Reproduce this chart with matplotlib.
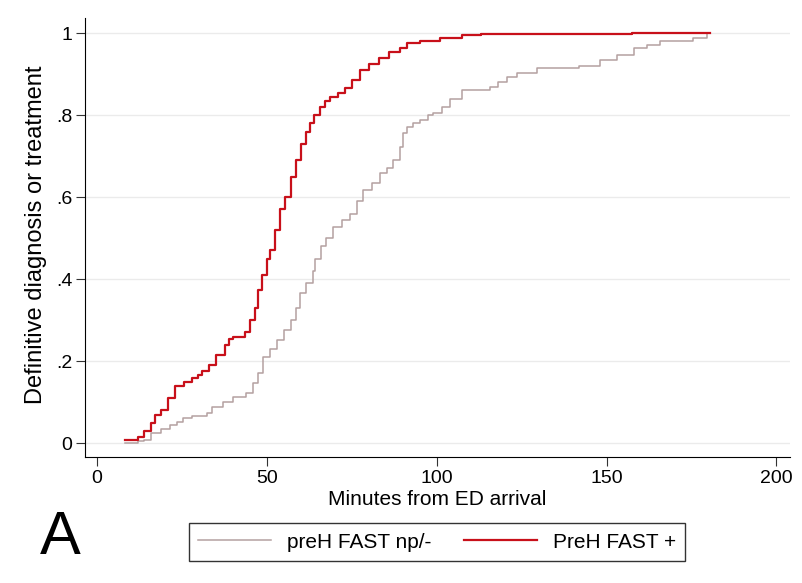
import numpy as np
import matplotlib.pyplot as plt

# cumulative proportion reaching definitive diagnosis/treatment
neg_t = [8.2, 12, 14, 16, 19, 21.5, 23.5, 25.4, 28, 32.4, 34, 37, 40, 44, 46, 47.5, 49,
         51, 53, 55, 57, 58.5, 59.8, 61.5, 63.6, 64.2, 66, 67.5, 69.5, 72, 74.5, 76.5,
         78.4, 81, 83.4, 85.5, 87.2, 89.2, 90.1, 91.3, 93, 95, 97.5, 99, 101.6, 104,
         107.5, 115.8, 118, 120.8, 123.7, 129.6, 142, 148, 153, 158, 162, 165.8, 175.5,
         179.7]
neg_y = [0.0, 0.004, 0.007, 0.025, 0.035, 0.045, 0.052, 0.061, 0.066, 0.073, 0.089,
         0.1, 0.113, 0.122, 0.146, 0.17, 0.21, 0.23, 0.251, 0.275, 0.30, 0.33, 0.366,
         0.39, 0.42, 0.45, 0.48, 0.5, 0.527, 0.545, 0.56, 0.59, 0.617, 0.635, 0.658,
         0.672, 0.69, 0.723, 0.756, 0.771, 0.78, 0.788, 0.8, 0.805, 0.82, 0.84, 0.861,
         0.869, 0.88, 0.894, 0.903, 0.915, 0.919, 0.934, 0.946, 0.963, 0.972, 0.981,
         0.988, 1.0]

pos_t = [8.2, 12, 14, 16, 17, 19, 21, 23, 25.6, 28, 29.7, 31, 33, 35, 37.7, 39, 40, 43.6,
         45, 46.5, 47.4, 48.5, 50, 51, 52.5, 54, 55.5, 57, 58.5, 60, 61.5, 62.7, 64,
         65.7, 67, 68.6, 71, 73, 75, 77.5, 80, 83, 86, 89.2, 91.3, 95, 101, 107.5,
         113, 120.8, 157.6, 180.5]
pos_y = [0.007, 0.015, 0.03, 0.05, 0.068, 0.08, 0.11, 0.14, 0.15, 0.158, 0.166, 0.175,
         0.19, 0.215, 0.24, 0.255, 0.26, 0.27, 0.3, 0.33, 0.373, 0.41, 0.45, 0.47,
         0.52, 0.57, 0.6, 0.65, 0.69, 0.73, 0.76, 0.78, 0.8, 0.82, 0.835, 0.845, 0.855,
         0.867, 0.885, 0.91, 0.925, 0.94, 0.955, 0.965, 0.976, 0.982, 0.988, 0.995,
         0.997, 0.998, 1.0, 1.0]

y_ticks = [0, 0.2, 0.4, 0.6, 0.8, 1.0]
y_ticklabels = ["0", ".2", ".4", ".6", ".8", "1"]
x_ticks = [0, 50, 100, 150, 200]

plt.rcParams['font.family'] = ['Liberation Sans', 'DejaVu Sans']

fig = plt.figure(figsize=(8.02, 5.83), dpi=100)
ax = fig.add_axes([0.106, 0.216, 0.879, 0.753])

ax.step(neg_t, neg_y, where="post", color="#b4a0a0", lw=1.1, label="preH FAST np/-")
ax.step(pos_t, pos_y, where="post", color="#c8101a", lw=1.6, label="PreH FAST +")

ax.set_xlim(-3.5, 204)
ax.set_ylim(-0.034, 1.037)
ax.set_yticks(y_ticks)
ax.set_yticklabels(y_ticklabels)
ax.set_xticks(x_ticks)
ax.grid(axis="y", color="#ebebeb", lw=1)
ax.set_axisbelow(True)
for s in ["top", "right"]:
    ax.spines[s].set_visible(False)
ax.tick_params(direction="out", length=6.5, pad=2.5, labelsize=14, color="#333333")
ax.set_xlabel("Minutes from ED arrival", fontsize=15, labelpad=2.5)
ax.set_ylabel("Definitive diagnosis or treatment", fontsize=17)
ax.yaxis.set_label_coords(-0.054, 0.506)

leg = fig.legend(loc="center", bbox_to_anchor=(0.545, 0.070), ncol=2, fontsize=15,
                 frameon=True, fancybox=False, edgecolor="black", handlelength=3.5,
                 handletextpad=0.75, columnspacing=1.6, borderpad=0.45,
                 borderaxespad=0)
leg.get_frame().set_linewidth(1.0)

fig.text(0.05, 0.0763, "A", fontsize=44, va="center", ha="left")

fig.savefig("out.png", dpi=100)
